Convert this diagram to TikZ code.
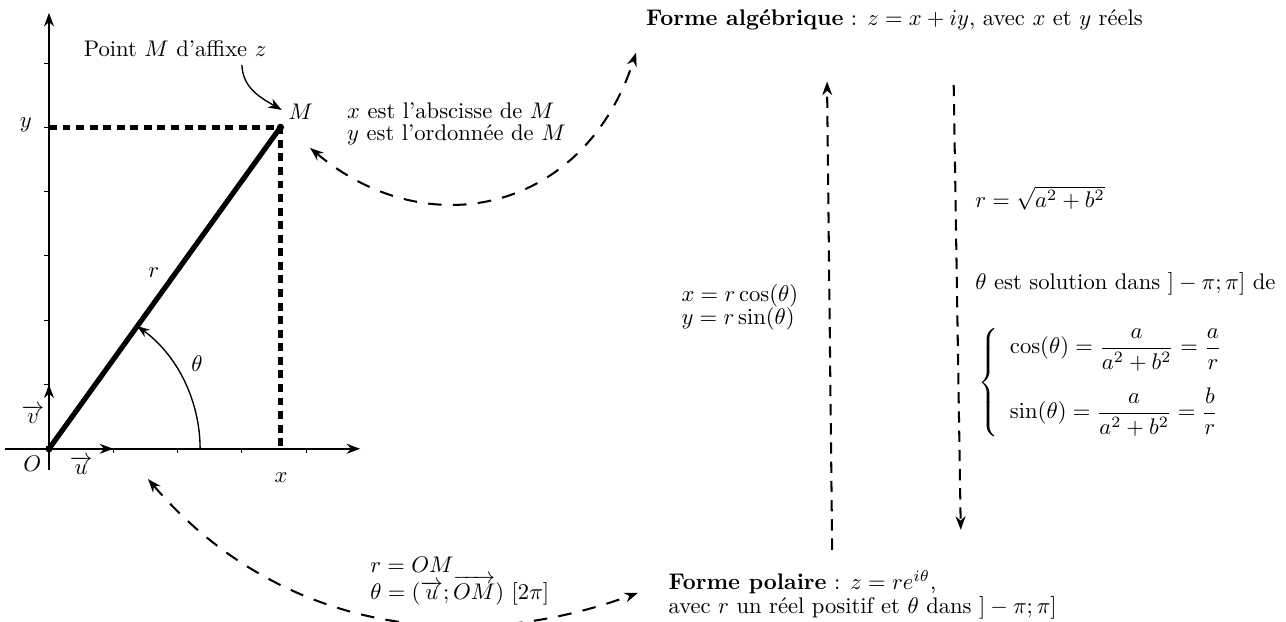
\documentclass[tikz,border=0pt]{standalone}
\usepackage{amsmath}
\usetikzlibrary{arrows.meta}
\begin{document}
\begin{tikzpicture}[
  txt/.style={inner sep=0pt, anchor=base west},
  lbl/.style={inner sep=0pt, anchor=base},
  tipstyle/.style={-{Stealth[length=6pt,width=4.4pt]}},
  axis/.style={line width=0.8pt, tipstyle},
  tickmark/.style={line width=0.4pt},
  proj/.style={line width=2pt, dash pattern=on 3.5pt off 2.5pt},
  modulus/.style={line width=2.3pt},
  anglearc/.style={line width=0.6pt, -{Stealth[length=5.5pt,width=4pt]}},
  curvedlink/.style={line width=0.9pt, dash pattern=on 6pt off 5pt, {Stealth[length=6pt,width=4.4pt]}-{Stealth[length=6pt,width=4.4pt]}},
  vlink/.style={line width=0.9pt, dash pattern=on 5pt off 3.5pt, tipstyle},
  dot/.style={circle, fill, inner sep=0pt, minimum size=3.2pt}
]
\useasboundingbox (-0.762,-2.693) rectangle (19.238,6.98);

% axes
\coordinate (O) at (0,0);
\coordinate (xstart) at (-0.68,0);
\coordinate (xend) at (4.84,0);
\coordinate (ystart) at (0,-0.33);
\coordinate (yend) at (0,6.78);
\draw[axis] (xstart) -- (xend);
\draw[axis] (ystart) -- (yend);
\foreach \i in {1,...,4} \draw[tickmark] (\i,0) -- (\i,-0.07);
\foreach \j in {1,...,6} \draw[tickmark] (0,\j) -- (-0.07,\j);

% point M and projections
\coordinate (M) at (3.6,5);
\coordinate (Mx) at (3.6,0);
\coordinate (My) at (0,5);
\draw[proj] (My) -- (M) -- (Mx);
\draw[modulus] (O) -- (M);
\coordinate (uend) at (1,0);
\coordinate (vend) at (0,1);
\draw[axis] (O) -- (uend);
\draw[axis] (O) -- (vend);
\draw[anglearc] (2.35,0) arc[start angle=0, end angle=54.25, radius=2.35];
\node[dot] (dotO) at (O) {};
\node[dot] (dotM) at (M) {};

% labels of the frame
\node[lbl] (Olbl) at (-0.26,-0.36) {$O$};
\node[lbl] (ulbl) at (0.50,-0.40) {$\overrightarrow{u}$};
\node[lbl] (vlbl) at (-0.25,0.40) {$\overrightarrow{v}$};
\node[lbl] (xlbl) at (3.61,-0.53) {$x$};
\node[lbl] (ylbl) at (-0.36,4.99) {$y$};
\node[lbl] (thetalbl) at (2.30,1.20) {$\theta$};
\node[lbl] (rlbl) at (1.63,2.67) {$r$};
\node[txt] (Mlbl) at (3.72,5.12) {$M$};
\node[lbl] (pointlbl) at (1.96,6.10) {Point $M$ d'affixe $z$};
\coordinate (pa) at (3.00,5.97);
\coordinate (pb) at (3.62,5.27);
\draw[line width=0.6pt, tipstyle] (pa) to[out=-88,in=150] (pb);

% texts near M
\node[txt] (absc) at (4.63,5.13) {$x$ est l'abscisse de $M$};
\node[txt] (ordo) at (4.63,4.80) {$y$ est l'ordonnée de $M$};

% curved links
\coordinate (c1s) at (4.06,4.68);
\coordinate (c1e) at (9.13,6.16);
\draw[curvedlink] (c1s) .. controls (5.898,3.137) and (8.33,3.69) .. (c1e);
\coordinate (c2s) at (1.54,-0.47);
\coordinate (c2e) at (9.16,-2.24);
\draw[curvedlink] (c2s) .. controls (3.49,-2.75) and (6.34,-3.27) .. (c2e);

\node[txt] (rOM) at (4.99,-1.93) {$r=OM$};
\node[txt] (thOM) at (4.99,-2.34) {$\theta=(\overrightarrow{u};\overrightarrow{OM})\ [2\pi]$};

% forms
\node[txt] (alg) at (9.28,6.59) {\textbf{Forme algébrique} : $z=x+iy$, avec $x$ et $y$ réels};
\node[txt] (pol1) at (9.63,-2.19) {\textbf{Forme polaire} : $z=re^{i\theta}$,};
\node[txt] (pol2) at (9.63,-2.56) {avec $r$ un réel positif et $\theta$ dans $]-\pi;\pi]$};

% vertical links
\coordinate (v1s) at (12.18,-1.57);
\coordinate (v1e) at (12.10,5.71);
\draw[vlink] (v1s) -- (v1e);
\coordinate (v2s) at (14.07,5.66);
\coordinate (v2e) at (14.18,-1.26);
\draw[vlink] (v2s) -- (v2e);

\node[txt] (xcos) at (9.83,2.29) {$x=r\cos(\theta)$};
\node[txt] (ysin) at (9.83,1.93) {$y=r\sin(\theta)$};

\node[txt] (rmod) at (14.40,3.76) {$r=\sqrt{a^2+b^2}$};
\node[txt] (thsol) at (14.40,2.47) {$\theta$ est solution dans $]-\pi;\pi]$ de};
\node[inner sep=0pt, anchor=west] (sys) at (14.45,1.03) {$\left\{\begin{array}{l}
  \cos(\theta)=\dfrac{a}{a^2+b^2}=\dfrac{a}{r}\\[11.5pt]
  \sin(\theta)=\dfrac{a}{a^2+b^2}=\dfrac{b}{r}
\end{array}\right.$};
\end{tikzpicture}
\end{document}
